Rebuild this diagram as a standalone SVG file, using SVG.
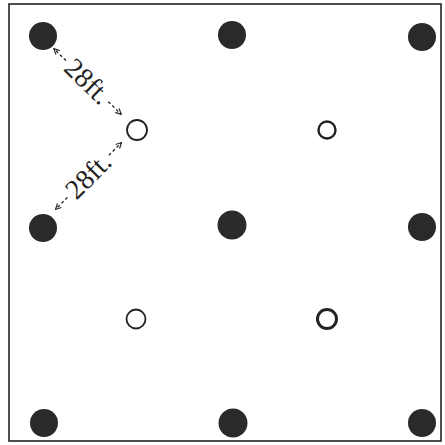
<svg xmlns="http://www.w3.org/2000/svg" width="445" height="445" viewBox="0 0 445 445">
<style>
.tree{fill:#2a2a2a}
.hole{fill:none;stroke:#222;stroke-width:1.8}
.dim{stroke:#222;stroke-width:1.3;stroke-dasharray:3 2.5;fill:none}
.lbl{font-family:"Liberation Serif","DejaVu Serif",serif;font-size:28px;fill:#222;text-anchor:middle}
</style>
<defs>
<marker id="ah" viewBox="0 0 10 10" refX="9" refY="5" markerWidth="7" markerHeight="7" orient="auto-start-reverse" markerUnits="userSpaceOnUse">
<path d="M1,1 L9,5 L1,9" fill="none" stroke="#222" stroke-width="1.6"/>
</marker>
</defs>
<rect width="445" height="445" fill="#fff"/>
<rect x="9" y="4" width="432" height="437" fill="none" stroke="#222" stroke-width="1.6"/>
<g id="t11"><circle class="tree" cx="43" cy="36" r="14"/></g>
<g id="t12"><circle class="tree" cx="232" cy="35" r="14"/></g>
<g id="t13"><circle class="tree" cx="422" cy="37" r="14"/></g>
<g id="t21"><circle class="tree" cx="43" cy="228" r="14"/></g>
<g id="t22"><circle class="tree" cx="232" cy="225" r="14.5"/></g>
<g id="t23"><circle class="tree" cx="422" cy="227" r="14"/></g>
<g id="t31"><circle class="tree" cx="44" cy="423" r="14"/></g>
<g id="t32"><circle class="tree" cx="233" cy="423" r="14.5"/></g>
<g id="t33"><circle class="tree" cx="422" cy="423" r="14"/></g>
<g id="h1"><circle class="hole" cx="137" cy="130" r="10"/></g>
<g id="h2"><circle class="hole" cx="327" cy="130" r="8.5" style="stroke-width:2.4"/></g>
<g id="h3"><circle class="hole" cx="136" cy="319" r="9.5"/></g>
<g id="h4"><circle class="hole" cx="327" cy="319" r="9.5" style="stroke-width:3"/></g>
<g id="connectors">
<g transform="translate(87.5,81.5) rotate(44.2)">
<line class="dim" x1="-30" y1="0" x2="-47" y2="0" marker-end="url(#ah)"/>
<line class="dim" x1="29" y1="0" x2="47" y2="0" marker-end="url(#ah)"/>
<text class="lbl" x="0" y="9">28ft.</text>
</g>
<g transform="translate(88.5,176) rotate(-45.4)">
<line class="dim" x1="-30" y1="0" x2="-47" y2="0" marker-end="url(#ah)"/>
<line class="dim" x1="29" y1="0" x2="47" y2="0" marker-end="url(#ah)"/>
<text class="lbl" x="0" y="9">28ft.</text>
</g>
</g>
</svg>
